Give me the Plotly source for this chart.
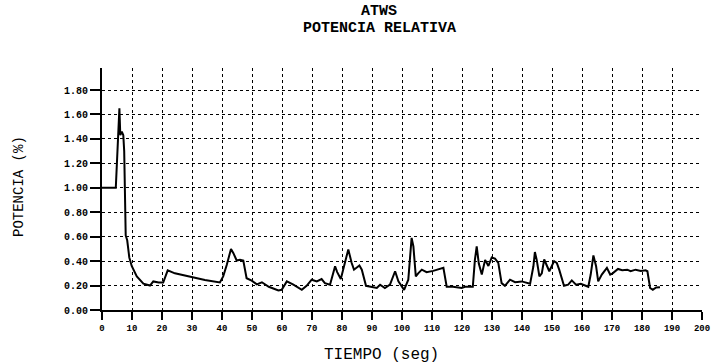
import plotly.graph_objects as go

tiempo = [0, 4.6, 5.8, 6.1, 6.6, 7.1, 7.4, 7.9, 8.4, 9.1, 9.9, 11.6, 13.8, 16, 17.1, 18.9, 20.4, 21.9, 24.3,
          29.9, 34.3, 39.3, 40.4, 41.6, 43.0, 43.8, 44.9, 46, 47.1, 48.2, 49.9, 51.6, 53.3, 55.6, 58.8, 59.9,
          61.6, 63.8, 66.6, 68.2, 69.9, 71.6, 73.2, 74.3, 76, 77.7, 78.4, 79.6, 80.7, 82.1, 83.2, 84, 85.8,
          86.6, 88, 89.9, 91.6, 92.7, 94.3, 96, 97.7, 98.8, 100.7, 102.1, 103.2, 103.8, 104.6, 105.4, 106.6,
          108.2, 110.4, 113.8, 114.9, 117, 119.9, 121, 123.6, 124.3, 124.9, 125.6, 126.6, 127.7, 128.8, 129.9,
          131, 132.1, 133.2, 134.3, 136, 137.7, 139.9, 142.7, 143.8, 144.3, 144.9, 145.8, 146.6, 147.4, 148.2,
          149.1, 150.7, 151.6, 152.4, 154, 155.4, 156.6, 158, 159.6, 162.1, 162.9, 163.8, 164.7, 165.4, 166.6,
          168.3, 169.4, 170.2, 172, 173.4, 175.1, 176.2, 177.9, 179.6, 181.2, 181.8, 182.7, 183.6, 184.7, 186]

potencia = [1.0, 1.0, 1.65, 1.43, 1.46, 1.43, 1.30, 0.61, 0.57, 0.43, 0.36, 0.275, 0.215, 0.20, 0.234, 0.225,
            0.225, 0.325, 0.30, 0.27, 0.245, 0.225, 0.275, 0.37, 0.50, 0.465, 0.405, 0.41, 0.405, 0.26, 0.24,
            0.21, 0.227, 0.19, 0.16, 0.165, 0.234, 0.207, 0.165, 0.198, 0.248, 0.234, 0.253, 0.22, 0.207, 0.358,
            0.31, 0.253, 0.358, 0.496, 0.386, 0.33, 0.364, 0.33, 0.198, 0.19, 0.18, 0.207, 0.18, 0.207, 0.317,
            0.234, 0.165, 0.248, 0.59, 0.52, 0.275, 0.30, 0.33, 0.31, 0.32, 0.345, 0.19, 0.19, 0.18, 0.19, 0.19,
            0.41, 0.52, 0.38, 0.29, 0.41, 0.36, 0.43, 0.42, 0.386, 0.22, 0.198, 0.248, 0.227, 0.234, 0.215,
            0.358, 0.474, 0.41, 0.275, 0.30, 0.413, 0.372, 0.317, 0.40, 0.386, 0.33, 0.198, 0.207, 0.242, 0.207,
            0.215, 0.19, 0.29, 0.446, 0.358, 0.234, 0.29, 0.345, 0.29, 0.30, 0.336, 0.325, 0.33, 0.317, 0.33,
            0.32, 0.325, 0.317, 0.18, 0.165, 0.185, 0.187]

title_lines = ["ATWS", "POTENCIA RELATIVA"]
x_title = "TIEMPO (seg)"
y_title = "POTENCIA (%)"

x_ticks = list(range(0, 201, 10))
y_ticks = [0.0, 0.2, 0.4, 0.6, 0.8, 1.0, 1.2, 1.4, 1.6, 1.8]
y_labels = ["0.00", "0.20", "0.40", "0.60", "0.80", "1.00", "1.20", "1.40", "1.60", "1.80"]

mono = "Liberation Mono"
PL, PT, PW, PH = 102, 68, 600, 242  # plot area in pixels


def px_x(px):
    return (px - PL) / PW


def px_y(py):
    return 1 - (py - PT) / PH


fig = go.Figure()
fig.add_trace(go.Scatter(x=tiempo, y=potencia, mode="lines",
                         line=dict(color="black", width=2), showlegend=False))

for i, txt in enumerate(title_lines):
    fig.add_annotation(text="<b>" + txt + "</b>", xref="paper", yref="paper",
                       x=px_x(379), y=px_y(12 + 17 * i),
                       xanchor="center", yanchor="middle", showarrow=False,
                       font=dict(family=mono, size=15, color="black"))

fig.add_annotation(text=x_title, xref="paper", yref="paper", x=px_x(381), y=px_y(355),
                   xanchor="center", yanchor="middle", showarrow=False,
                   font=dict(family=mono, size=16, color="black"))
fig.add_annotation(text=y_title, xref="paper", yref="paper", x=px_x(19), y=px_y(187),
                   xanchor="center", yanchor="middle", showarrow=False, textangle=-90,
                   font=dict(family=mono, size=14, color="black"))

fig.update_layout(
    width=716, height=363,
    paper_bgcolor="white", plot_bgcolor="white",
    margin=dict(l=PL, r=716 - PL - PW, t=PT, b=363 - PT - PH, autoexpand=False),
    xaxis=dict(range=[0, 200], tickvals=x_ticks, ticktext=[str(v) for v in x_ticks],
               showgrid=True, gridcolor="black", griddash="dot", gridwidth=1.3,
               showline=True, linecolor="black", linewidth=2,
               ticks="outside", ticklen=8, tickwidth=2, tickcolor="black",
               tickfont=dict(family=mono, size=9, color="black", weight="bold"),
               zeroline=False, automargin=False),
    yaxis=dict(range=[0, 1.98], tickvals=y_ticks, ticktext=y_labels,
               showgrid=True, gridcolor="black", griddash="dot", gridwidth=1.3,
               showline=True, linecolor="black", linewidth=2,
               ticks="outside", ticklen=10, tickwidth=1.5, tickcolor="black",
               tickfont=dict(family=mono, size=10, color="black", weight="bold"),
               zeroline=False, automargin=False),
)

fig.write_html("out.html")
